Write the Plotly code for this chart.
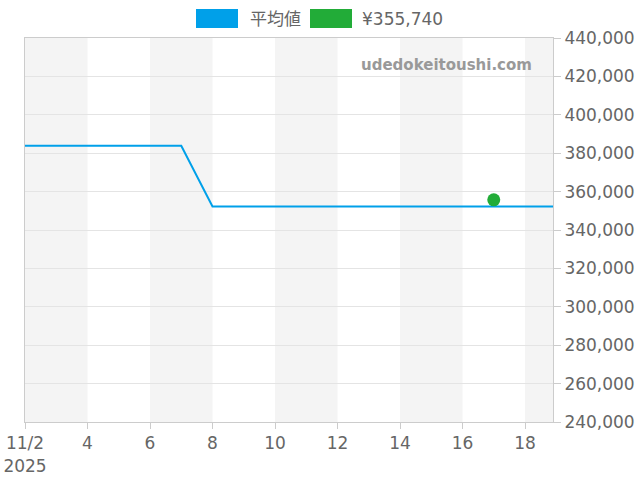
import plotly.graph_objects as go

# daily average price
dates = [f"2025-11-{d:02d}" for d in range(2, 20)]
avg_values = [383900] * 6 + [352300] * 12

# latest listing
latest_date = ["2025-11-17"]
latest_value = [355740]

tick_dates = [f"2025-11-{d:02d}" for d in range(2, 19, 2)]
tick_labels = ["11/2<br>2025", "4", "6", "8", "10", "12", "14", "16", "18"]
band_starts = ["2025-11-02", "2025-11-06", "2025-11-10", "2025-11-14", "2025-11-18"]
band_ends = ["2025-11-04", "2025-11-08", "2025-11-12", "2025-11-16", "2025-11-20"]

BLUE = "#00a0e9"
GREEN = "#22ac38"
FONT = "DejaVu Sans, Noto Sans CJK JP, sans-serif"

fig = go.Figure()
fig.add_trace(go.Scatter(x=dates, y=avg_values, mode="lines",
                         line=dict(color=BLUE, width=2), showlegend=False,
                         name="平均値"))
fig.add_trace(go.Scatter(x=latest_date, y=latest_value, mode="markers",
                         marker=dict(color=GREEN, size=13), showlegend=False,
                         name="¥355,740"))

for s, e in zip(band_starts, band_ends):
    fig.add_shape(type="rect", xref="x", yref="paper", x0=s, x1=e, y0=0, y1=1,
                  fillcolor="#f4f4f4", line_width=0, layer="below")

# custom legend at top (pixel -> paper)
W, L, T, B = 528, 25, 38, 422
def px(x):
    return (x - L) / W
def py(y):
    return (B - y) / (B - T)

legend_items = [("平均値", BLUE, 196, 238, 248), ("¥355,740", GREEN, 310, 352, 360)]
for label, col, x0, x1, tx in legend_items:
    fig.add_shape(type="rect", xref="paper", yref="paper",
                  x0=px(x0), x1=px(x1), y0=py(28), y1=py(9),
                  fillcolor=col, line_width=0)
    fig.add_annotation(xref="paper", yref="paper", x=px(tx), y=py(18.5),
                       text=label, showarrow=False, xanchor="left", yanchor="middle",
                       font=dict(family=FONT, size=17, color="#666666"))

fig.add_annotation(xref="paper", yref="paper", x=px(446), y=py(65),
                   xanchor="center", yanchor="middle",
                   text="<b>udedokeitoushi.com</b>", showarrow=False,
                   font=dict(family=FONT, size=15, color="#999999"))

fig.update_layout(
    width=640, height=480,
    margin=dict(l=25, r=87, t=38, b=58),
    paper_bgcolor="white", plot_bgcolor="white",
    font=dict(family=FONT, size=17, color="#666666"),
    showlegend=False,
)
fig.update_xaxes(
    range=["2025-11-02", "2025-11-18 21:30"], automargin=False,
    tickvals=tick_dates, ticktext=tick_labels, ticklabeloverflow="allow",
    showgrid=False, showline=True, mirror=True, linecolor="#cccccc", linewidth=1,
    ticks="outside", ticklen=6, tickcolor="#cccccc",
)
fig.update_yaxes(
    range=[240000, 440000], dtick=20000, tickformat=",", side="right",
    automargin=False, ticklabeloverflow="allow", ticklabelstandoff=0,
    showgrid=True, gridcolor="#e4e4e4", zeroline=False,
    showline=True, mirror=True, linecolor="#cccccc", linewidth=1,
    ticks="outside", ticklen=7, tickcolor="#cccccc",
)

# drop the page's default body margin so the figure sits at the window corner
fig.write_html("out.html", config={"displayModeBar": False},
               post_script="document.body.style.margin='0';")
